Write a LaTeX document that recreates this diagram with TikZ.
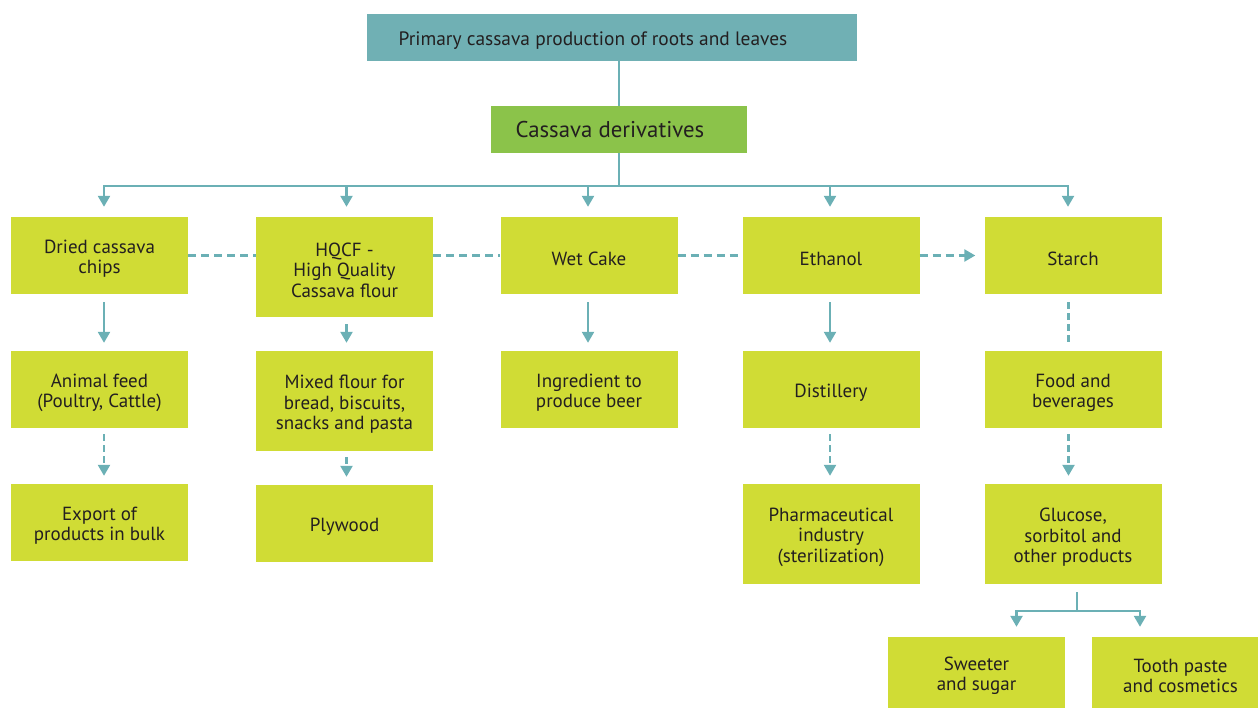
\documentclass[tikz,border=0pt]{standalone}
\usepackage{fontspec}
\setmainfont{PT Sans}
\usetikzlibrary{arrows.meta,calc}
\definecolor{cteal}{HTML}{70B0B4}
\definecolor{cline}{HTML}{6BB0B5}
\definecolor{cgreen}{HTML}{8BC34A}
\definecolor{clime}{HTML}{D0DC35}
\definecolor{ctext}{HTML}{231F20}
\newcommand\topstrut{\rule{0pt}{20pt}}
\begin{document}
\begin{tikzpicture}[x=1pt,y=-1pt,
  box/.style={fill=clime, draw=none, minimum width=177pt, minimum height=77pt,
    align=center, text=ctext, inner sep=0pt, font=\fontsize{19}{20.5}\selectfont},
  tall/.style={box, minimum height=100pt},
  link/.style={draw=cline, line width=2.4pt},
  tip/.style={-{Triangle[length=11pt,width=12pt]}},
  arr/.style={link, tip},
  dsh/.style={link, dash pattern=on 8pt off 5pt},
  vdsh/.style={link, dash pattern=on 7pt off 4pt},
]
\useasboundingbox (0,0) rectangle (1258,709);
\clip (0,0) rectangle (1258,709);

% top levels
\node[box, fill=cteal, minimum width=490pt, minimum height=47pt,
  font=\fontsize{19.4}{22}\selectfont] (top) at (612,37.5)
  {\topstrut Primary cassava production of roots and leaves\hspace*{38pt}};
\node[box, fill=cgreen, minimum width=256pt, minimum height=47pt,
  font=\fontsize{22.8}{26}\selectfont] (der) at (619,129.5)
  {Cassava derivatives\hspace*{18pt}};

% row 1
\node[box] (chips) at (99.5,255.5) {\topstrut Dried cassava\\chips};
\node[tall] (hqcf) at (344.5,267) {\topstrut HQCF -\\High Quality\\Cassava flour};
\node[box] (wet) at (589,255.5) {\topstrut Wet Cake};
\node[box] (eth) at (831,255.5) {\topstrut Ethanol};
\node[box] (starch) at (1073,255.5) {\topstrut Starch};

% row 2
\node[box] (feed) at (99.5,389.5) {\topstrut Animal feed\\(Poultry, Cattle)};
\node[tall] (mixed) at (344.5,401) {\topstrut Mixed flour for\\bread, biscuits,\\snacks and pasta};
\node[box] (beer) at (589,389.5) {\topstrut Ingredient to\\produce beer};
\node[box] (dist) at (831,389.5) {\topstrut Distillery};
\node[box] (food) at (1073,389.5) {\topstrut Food and\\beverages};

% row 3
\node[box] (export) at (99.5,522.5) {\topstrut Export of\\products in bulk};
\node[box] (ply) at (344.5,523.5) {\topstrut Plywood};
\node[tall] (pharma) at (831,534) {\topstrut Pharmaceutical\\industry\\(sterilization)};
\node[tall] (gluc) at (1073,534) {\topstrut Glucose,\\sorbitol and\\other products};

% row 4
\node[box, minimum height=71pt] (sweet) at (976.5,672.5) {\topstrut Sweeter\\and sugar};
\node[box, minimum height=71pt] (tooth) at (1180.5,672.5) {\topstrut Tooth paste\\and cosmetics};

% connectors top
\draw[link] (der.north |- top.south) -- (der.north);
\coordinate (bus) at ($(der.south)+(0,33)$);
\draw[link] (der.south) -- (bus);
\coordinate (a1) at ([xshift=4.5pt]chips.north);
\coordinate (a2) at ([xshift=2pt]hqcf.north);
\coordinate (a3) at ([xshift=-1pt]wet.north);
\coordinate (a4) at ([xshift=-1pt]eth.north);
\coordinate (a5) at ([xshift=-5pt]starch.north);
\foreach \a in {a1,a2,a3,a4,a5}
  \draw[arr] (bus) -| ([yshift=10pt]\a);

% dashed horizontals
\draw[dsh] (chips.east) -- (chips.east -| hqcf.west);
\draw[dsh] (hqcf.east |- wet.west) -- (wet.west);
\draw[dsh] (wet.east) -- (eth.west);
\draw[dsh, tip] (eth.east) -- ([xshift=-9pt]starch.west);

% row1 -> row2
\draw[arr] ([xshift=4.5pt,yshift=-8pt]chips.south) -- ([xshift=4.5pt,yshift=8pt]feed.north);
\draw[arr] ([xshift=2pt,yshift=-7pt]hqcf.south) -- ([xshift=2pt,yshift=8pt]mixed.north);
\draw[arr] ([xshift=-1pt,yshift=-8pt]wet.south) -- ([xshift=-1pt,yshift=8pt]beer.north);
\draw[arr] ([xshift=-1pt,yshift=-8pt]eth.south) -- ([xshift=-1pt,yshift=8pt]dist.north);
\draw[vdsh] ([xshift=-4.5pt,yshift=-8pt]starch.south) -- ([xshift=-4.5pt,yshift=9pt]food.north);

% row2 -> row3
\draw[vdsh, tip] ([xshift=4.5pt,yshift=-6pt]feed.south) -- ([xshift=4.5pt,yshift=8pt]export.north);
\draw[vdsh, tip] ([xshift=2pt,yshift=-6pt]mixed.south) -- ([xshift=2pt,yshift=8pt]ply.north);
\draw[vdsh, tip] ([xshift=-1pt,yshift=-6pt]dist.south) -- ([xshift=-1pt,yshift=8pt]pharma.north);
\draw[vdsh, tip] ([xshift=-4.5pt,yshift=-6pt]food.south) -- ([xshift=-4.5pt,yshift=8pt]gluc.north);

% glucose split
\coordinate (sp) at ([xshift=4pt,yshift=-27pt]gluc.south);
\draw[link] ([xshift=4pt,yshift=-8pt]gluc.south) -- (sp);
\draw[arr] (sp) -| ([xshift=40pt,yshift=10pt]sweet.north);
\draw[arr] (sp) -| ([xshift=-40.5pt,yshift=10pt]tooth.north);
\end{tikzpicture}
\end{document}
